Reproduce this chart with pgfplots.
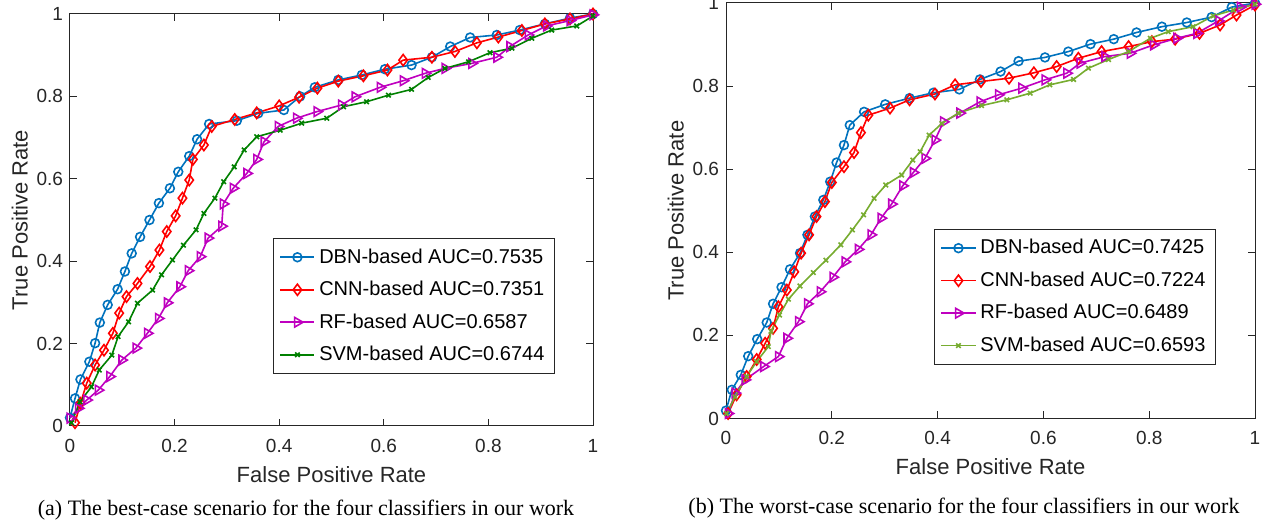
\documentclass[border=0pt]{standalone}
\usepackage{fontspec}
\setmainfont{Liberation Sans}
\newfontfamily\capfont{Liberation Serif}
\usepackage{pgfplots}
\pgfplotsset{compat=1.18}

\definecolor{mblue}{rgb}{0,0.447,0.741}
\definecolor{mred}{rgb}{1,0,0}
\definecolor{mmag}{rgb}{0.75,0,0.75}
\definecolor{mgreen}{rgb}{0,0.5,0}
\definecolor{mlime}{rgb}{0.466,0.674,0.188}
\definecolor{axgray}{rgb}{0.15,0.15,0.15}

\pgfplotsset{
  rocax/.style={
    scale only axis, anchor=south west,
    xmin=0, xmax=1, ymin=0, ymax=1,
    xtick={0,0.2,0.4,0.6,0.8,1}, ytick={0,0.2,0.4,0.6,0.8,1},
    axis line style={axgray, line width=0.5pt},
    tick style={axgray, line width=0.5pt},
    major tick length=3.5pt,
    ticklabel style={font=\fontsize{9.5}{11}\selectfont, text=axgray},
    xticklabel style={yshift=-3pt},
    /pgf/number format/assume math mode=true,
    label style={font=\fontsize{11}{13}\selectfont, text=axgray},
    xlabel={False Positive Rate}, ylabel={True Positive Rate},
    ylabel shift=-2.5pt,
    legend cell align=left,
    legend style={font=\fontsize{10}{12}\selectfont, draw=axgray,
      anchor=north east, row sep=3.5pt, inner xsep=3pt, inner ysep=3pt},
    clip=false,
  },
  dbn/.style={mblue, line width=0.8pt, mark=o, mark size=2.2pt, mark options={solid}},
  cnn/.style={mred, line width=0.8pt, mark=diamond, mark size=2.8pt, mark options={solid}},
  rf/.style={mmag, line width=0.8pt, mark=triangle, mark size=2.8pt, mark options={solid, rotate=-90}},
  svm/.style={line width=0.8pt, mark=x, mark size=1.6pt, mark options={solid}},
}

\begin{document}
\begin{tikzpicture}
\useasboundingbox (0,0) rectangle (631.5pt,262pt);

% (a) best case
\begin{axis}[rocax, at={(35pt,49pt)}, width=261.5pt, height=206pt,
    legend style={at={(0.927,0.456)}}]
\addplot[dbn] coordinates {
(0,0.02) (0.0096,0.067) (0.020,0.113) (0.037,0.156) (0.048,0.201) (0.057,0.251)
(0.072,0.294) (0.091,0.332) (0.105,0.375) (0.118,0.419) (0.134,0.459) (0.152,0.5)
(0.170,0.541) (0.191,0.577) (0.207,0.617) (0.228,0.655) (0.243,0.696) (0.266,0.733)
(0.319,0.741) (0.360,0.759) (0.409,0.767) (0.44,0.80) (0.468,0.822) (0.513,0.840)
(0.558,0.852) (0.602,0.866) (0.653,0.876) (0.692,0.895) (0.727,0.921) (0.765,0.943)
(0.816,0.949) (0.860,0.961) (0.908,0.976) (0.956,0.990) (1,1)
};
\addplot[cnn] coordinates {
(0.0096,0.008) (0.020,0.055) (0.032,0.104) (0.048,0.148) (0.065,0.184) (0.082,0.225)
(0.094,0.274) (0.108,0.314) (0.129,0.346) (0.153,0.387) (0.171,0.427) (0.185,0.472)
(0.202,0.510) (0.215,0.553) (0.228,0.597) (0.235,0.647) (0.256,0.682) (0.271,0.727)
(0.315,0.744) (0.357,0.760) (0.400,0.777) (0.438,0.798) (0.473,0.820) (0.513,0.837)
(0.561,0.850) (0.607,0.864) (0.637,0.888) (0.692,0.895) (0.736,0.909) (0.778,0.930)
(0.819,0.944) (0.864,0.960) (0.908,0.976) (0.956,0.988) (1,1)
};
\addplot[rf] coordinates {
(0,0.019) (0.016,0.043) (0.032,0.063) (0.054,0.087) (0.076,0.120) (0.099,0.160)
(0.126,0.189) (0.148,0.225) (0.169,0.261) (0.186,0.299) (0.210,0.338) (0.226,0.377)
(0.249,0.411) (0.264,0.456) (0.290,0.485) (0.293,0.539) (0.312,0.577) (0.338,0.613)
(0.357,0.647) (0.371,0.690) (0.398,0.727) (0.433,0.747) (0.472,0.763) (0.519,0.779)
(0.545,0.799) (0.593,0.822) (0.637,0.838) (0.679,0.856) (0.717,0.868) (0.768,0.880)
(0.816,0.895) (0.841,0.921) (0.876,0.949) (0.911,0.971) (0.956,0.984) (1,0.998)
};
\addplot[svm, mgreen] coordinates {
(0.003,0.008) (0.019,0.059) (0.041,0.095) (0.056,0.136) (0.080,0.172) (0.092,0.217)
(0.112,0.253) (0.129,0.298) (0.158,0.330) (0.175,0.367) (0.196,0.403) (0.217,0.439)
(0.241,0.476) (0.256,0.516) (0.277,0.553) (0.294,0.593) (0.314,0.629) (0.333,0.670)
(0.357,0.702) (0.402,0.718) (0.443,0.735) (0.491,0.747) (0.523,0.775) (0.567,0.787)
(0.609,0.803) (0.653,0.817) (0.685,0.846) (0.717,0.868) (0.762,0.884) (0.803,0.906)
(0.845,0.917) (0.883,0.941) (0.921,0.961) (0.969,0.971) (1,0.995)
};
\legend{DBN-based AUC=0.7535, CNN-based AUC=0.7351, RF-based AUC=0.6587, SVM-based AUC=0.6744}
\end{axis}

% (b) worst case
\begin{axis}[rocax, at={(363pt,52.75pt)}, width=264.5pt, height=207.75pt,
    legend style={at={(0.926,0.456)}}]
\addplot[dbn] coordinates {
(0,0.019) (0.011,0.069) (0.028,0.105) (0.042,0.150) (0.059,0.191) (0.077,0.231)
(0.089,0.276) (0.105,0.316) (0.121,0.359) (0.140,0.398) (0.154,0.442) (0.168,0.486)
(0.184,0.526) (0.197,0.570) (0.209,0.616) (0.223,0.658) (0.234,0.706) (0.261,0.738)
(0.301,0.756) (0.347,0.771) (0.392,0.784) (0.441,0.792) (0.480,0.816) (0.519,0.835)
(0.553,0.860) (0.603,0.869) (0.647,0.883) (0.689,0.901) (0.733,0.913) (0.776,0.929)
(0.824,0.943) (0.871,0.953) (0.918,0.966) (0.956,0.990) (1,1)
};
\addplot[cnn] coordinates {
(0.004,0.012) (0.020,0.057) (0.039,0.101) (0.058,0.142) (0.074,0.181) (0.089,0.217)
(0.099,0.269) (0.115,0.309) (0.129,0.353) (0.142,0.398) (0.157,0.442) (0.171,0.486)
(0.187,0.522) (0.200,0.568) (0.223,0.606) (0.242,0.640) (0.255,0.688) (0.269,0.730)
(0.310,0.747) (0.347,0.767) (0.395,0.781) (0.433,0.803) (0.482,0.811) (0.535,0.819)
(0.582,0.832) (0.625,0.847) (0.666,0.867) (0.710,0.883) (0.761,0.895) (0.805,0.907)
(0.849,0.913) (0.895,0.927) (0.934,0.947) (0.965,0.971) (1,0.995)
};
\addplot[rf] coordinates {
(0.004,0.012) (0.017,0.061) (0.036,0.093) (0.071,0.125) (0.099,0.149) (0.115,0.193)
(0.137,0.233) (0.154,0.276) (0.178,0.305) (0.202,0.340) (0.225,0.377) (0.250,0.407)
(0.274,0.442) (0.293,0.482) (0.313,0.516) (0.334,0.560) (0.354,0.592) (0.376,0.626)
(0.395,0.670) (0.411,0.714) (0.442,0.735) (0.480,0.762) (0.515,0.779) (0.559,0.795)
(0.603,0.815) (0.644,0.831) (0.669,0.855) (0.716,0.871) (0.764,0.879) (0.808,0.899)
(0.852,0.915) (0.890,0.927) (0.931,0.957) (0.972,0.990) (1,0.997)
};
\addplot[svm, mlime] coordinates {
(0.001,0.012) (0.017,0.052) (0.039,0.101) (0.058,0.137) (0.080,0.173) (0.085,0.210)
(0.101,0.249) (0.118,0.287) (0.140,0.319) (0.165,0.351) (0.189,0.381) (0.217,0.418)
(0.239,0.454) (0.260,0.490) (0.280,0.530) (0.302,0.562) (0.332,0.586) (0.353,0.622)
(0.367,0.642) (0.384,0.682) (0.408,0.710) (0.439,0.735) (0.483,0.753) (0.531,0.767)
(0.575,0.783) (0.612,0.803) (0.657,0.816) (0.685,0.843) (0.723,0.864) (0.761,0.883)
(0.802,0.915) (0.836,0.931) (0.883,0.943) (0.921,0.969) (0.959,0.983) (1,0.997)
};
\legend{DBN-based AUC=0.7425, CNN-based AUC=0.7224, RF-based AUC=0.6489, SVM-based AUC=0.6593}
\end{axis}

\node[font=\capfont\fontsize{11}{13}\selectfont] at (153pt,7pt)
  {(a) The best-case scenario for the four classifiers in our work};
\node[font=\capfont\fontsize{11}{13}\selectfont] at (482pt,8pt)
  {(b) The worst-case scenario for the four classifiers in our work};
\end{tikzpicture}
\end{document}
